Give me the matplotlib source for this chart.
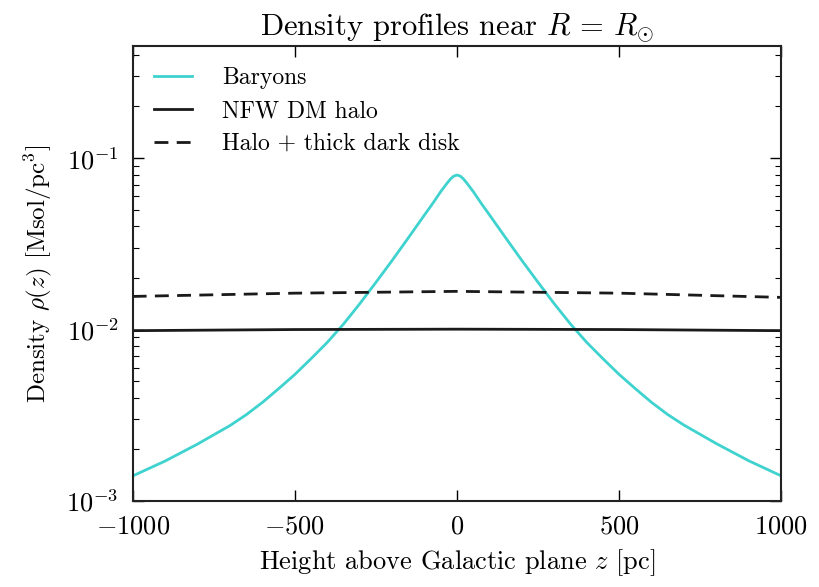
import numpy as np
import matplotlib
import matplotlib.pyplot as plt

matplotlib.use('Agg')
plt.rcParams['font.family'] = 'serif'
plt.rcParams['font.serif'] = ['cmr10', 'DejaVu Serif']
plt.rcParams['mathtext.fontset'] = 'cm'
plt.rcParams['axes.formatter.use_mathtext'] = True

# values (z in pc, density in Msol/pc^3)
z_bary = [-1000, -900, -800, -700, -650, -600, -550, -500, -450, -400, -350, -300, -250, -200,
          -150, -100, -75, -50, -30, -20, -10, 0,
          10, 20, 30, 50, 75, 100, 150, 200, 250, 300, 350, 400, 450, 500, 550, 600, 650, 700,
          800, 900, 1000]
rho_bary = [0.001400, 0.001710, 0.002148, 0.002754, 0.003184, 0.003758, 0.004519, 0.005470,
            0.006761, 0.008414, 0.01076, 0.01413, 0.01884, 0.02529,
            0.03428, 0.04667, 0.05433, 0.06383, 0.07161, 0.07551, 0.07852, 0.07962,
            0.07852, 0.07551, 0.07161, 0.06383, 0.05433, 0.04667, 0.03428, 0.02529, 0.01884,
            0.01413, 0.01076, 0.008414, 0.006761, 0.005470, 0.004519, 0.003758, 0.003190,
            0.002770, 0.002160, 0.001715, 0.001400]

z_halo = [-1000, -500, 0, 500, 1000]
rho_halo = [0.00985, 0.0100, 0.01005, 0.0100, 0.00985]
rho_disk = [0.0156, 0.0163, 0.0167, 0.0163, 0.0154]

fig = plt.figure(figsize=(8.19, 5.87), dpi=100)
ax = fig.add_axes([0.162, 0.1465, 0.792, 0.775])

ax.plot(z_bary, rho_bary, color='#3fd3cf', lw=2.0, label='Baryons')
ax.plot(z_halo, rho_halo, color='#1a1a1a', lw=2.0, label='NFW DM halo')
ax.plot(z_halo, rho_disk, color='#1a1a1a', lw=2.0, dashes=(5, 3), label='Halo + thick dark disk')

ax.set_yscale('log')
ax.set_xlim(-1000, 1000)
ax.set_ylim(1e-3, 0.45)
ax.set_xticks([-1000, -500, 0, 500, 1000])
ax.set_yticks([1e-3, 1e-2, 1e-1])

ax.tick_params(which='both', direction='in', top=True, right=True)
ax.tick_params(which='major', length=8, width=1, labelsize=19)
ax.tick_params(axis='x', which='major', pad=10)
ax.tick_params(axis='y', which='major', pad=10)
ax.tick_params(which='minor', length=4, width=0.8)
for s in ax.spines.values():
    s.set_linewidth(1.5)
    s.set_color('#222222')

ax.set_title(r'Density profiles near $R\,=\,R_{\odot}$', fontsize=22, pad=8)
ax.set_xlabel(r'Height above Galactic plane $z$ [pc]', fontsize=19, labelpad=6)
ax.set_ylabel(r'Density $\rho(z)$ [Msol/pc$^3$]', fontsize=18, labelpad=9)

ax.legend(loc='upper left', frameon=False, fontsize=17, handlelength=1.6,
          handletextpad=1.3, labelspacing=0.45, borderaxespad=0.5, borderpad=0.4)

fig.savefig('out.png', dpi=100)
